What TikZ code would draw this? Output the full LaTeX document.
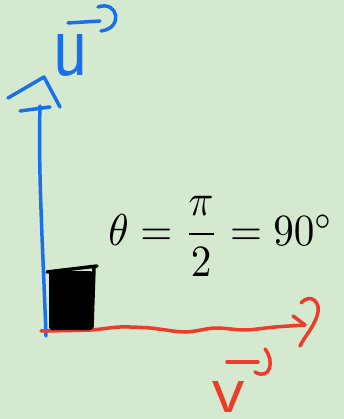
\documentclass[tikz,border=0pt]{standalone}
\usepackage{amsmath}
\usepackage{graphicx}
\definecolor{bg}{RGB}{212,233,208}
\definecolor{pblue}{RGB}{24,112,236}
\definecolor{pred}{RGB}{236,60,42}
\begin{document}
\begin{tikzpicture}[x=1pt,y=-1pt,
  stroke/.style={line width=3.5pt,line cap=round,line join=round},
  lbl/.style={inner sep=0pt}]
\fill[bg] (0,0) rectangle (344,419);
\useasboundingbox (0,0) rectangle (344,419);
% named points
\coordinate (o) at (46,336);
\coordinate (utop) at (40,106);
\coordinate (uhead) at (44,77);
\coordinate (vend) at (305,325);
% blue vector u
\draw[stroke,pblue] (o) .. controls (43,250) and (38,170) .. (utop);
\draw[stroke,pblue] (20,111) -- (50,107);
\draw[stroke,pblue] (8,98) -- (uhead) -- (60,107);
% red vector v
\draw[stroke,pred] plot[smooth] coordinates {(41,331) (90,330) (120,327) (150,328) (185,332) (215,328) (245,330) (275,327) (vend)};
\draw[stroke,pred] (293,316) -- (vend);
\draw[stroke,pred] (301,303) .. controls (311,292) and (322,303) .. (317,316) .. controls (313,328) and (305,336) .. (300,346);
% right-angle marker
\fill[black,rounded corners=3pt] (49,271) rectangle (93,330);
\draw[stroke,black] (47,272) -- (97,266);
\draw[stroke,black] (94,268) -- (92,327);
% labels
\node[lbl,pblue] (ulab) at (71,56) {\resizebox*{36pt}{42pt}{\textsf{u}}};
\coordinate (ua0) at (68,23);
\coordinate (ua1) at (100,21);
\draw[stroke,pblue] (ua0) -- (ua1);
\draw[stroke,pblue] (98,7) .. controls (118,0) and (124,28) .. (101,31);
\node[lbl,pred] (vlab) at (229,397) {\resizebox*{40pt}{31pt}{\kern0.4pt\textsf{v}\kern0.4pt}};
\coordinate (va0) at (227,362);
\coordinate (va1) at (258,362);
\draw[stroke,pred] (va0) -- (va1);
\draw[stroke,pred] (265,349) .. controls (275,361) and (270,381) .. (255,372);
\node[lbl] (eq) at (221,236) {\resizebox*{225pt}{80pt}{$\theta=\dfrac{\pi}{2}=90^\circ$}};
\end{tikzpicture}
\end{document}
